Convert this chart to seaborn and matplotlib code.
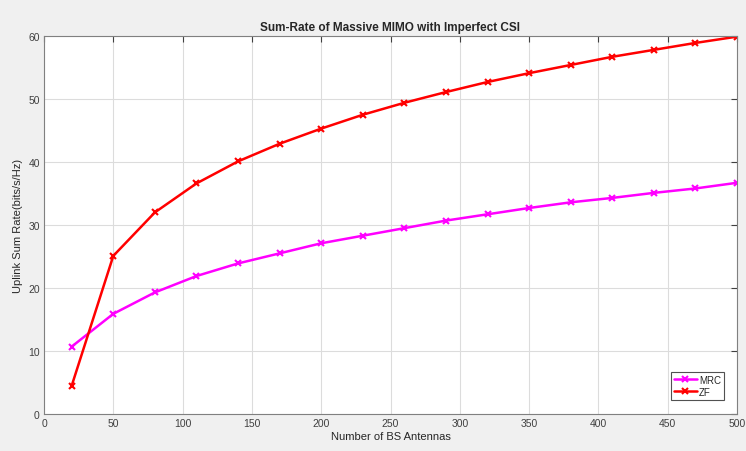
import numpy as np
import pandas as pd
import matplotlib
matplotlib.use('Agg')
import matplotlib.pyplot as plt
import seaborn as sns

# --- data ---
antennas = [20, 50, 80, 110, 140, 170, 200, 230, 260, 290, 320, 350, 380, 410, 440, 470, 500]
mrc_rate = [10.7, 15.9, 19.3, 21.9, 23.9, 25.5, 27.1, 28.3, 29.5, 30.7, 31.7, 32.7, 33.6, 34.3, 35.1, 35.8, 36.7]
zf_rate = [4.5, 25.1, 32.0, 36.6, 40.1, 42.9, 45.3, 47.5, 49.4, 51.1, 52.7, 54.1, 55.4, 56.7, 57.8, 58.9, 59.9]
schemes = ['MRC', 'ZF']
colors = {'MRC': '#ff00ff', 'ZF': '#ff0000'}

df = pd.DataFrame({
    'M': antennas * 2,
    'rate': mrc_rate + zf_rate,
    'scheme': ['MRC'] * len(antennas) + ['ZF'] * len(antennas),
})

sns.set_style('whitegrid')
plt.rcParams['font.family'] = ['Liberation Sans', 'DejaVu Sans']

fig = plt.figure(figsize=(7.46, 4.52), dpi=100, facecolor='#f0f0f0')
ax = fig.add_axes([44 / 746, 1 - 415 / 452, 693 / 746, 378 / 452])
ax.set_facecolor('white')

sns.lineplot(data=df, x='M', y='rate', hue='scheme', hue_order=schemes, palette=colors,
             dashes=False, linewidth=1.8, ax=ax)

ax.set_xlim(0, 500)
ax.set_ylim(0, 60)
ax.set_xticks(np.arange(0, 501, 50))
ax.set_yticks(np.arange(0, 61, 10))
ax.grid(True, color='#dcdcdc', linewidth=0.8)
for s in ax.spines.values():
    s.set_color('#808080')
    s.set_linewidth(0.8)
ax.tick_params(direction='in', length=4, colors='#404040', labelsize=7.5, top=True, right=True,
               labeltop=False, labelright=False, pad=3)

ax.set_title('Sum-Rate of Massive MIMO with Imperfect CSI', fontsize=8.5, fontweight='bold', pad=4)
ax.set_xlabel('Number of BS Antennas', fontsize=8, color='#262626', labelpad=2)
ax.set_ylabel('Uplink Sum Rate(bits/s/Hz)', fontsize=8, color='#262626', labelpad=4)

leg = ax.legend(title=None, loc='lower right', bbox_to_anchor=(0.988, 0.025), fontsize=7,
                frameon=True, fancybox=False, handlelength=2.4, borderpad=0.3, labelspacing=0.2,
                handletextpad=0.2)
leg.get_frame().set_edgecolor('#262626')
leg.get_frame().set_linewidth(0.8)

# MATLAB-style 'x' markers on lines and legend handles
for ln in list(ax.lines) + list(leg.legend_handles):
    c = ln.get_color()
    ln.set_marker('x')
    ln.set_markersize(5)
    ln.set_markeredgewidth(1.5)
    ln.set_markeredgecolor(c)
    ln.set_markerfacecolor(c)
    ln.set_linestyle('-')

fig.savefig('out.png', dpi=100, facecolor=fig.get_facecolor())
